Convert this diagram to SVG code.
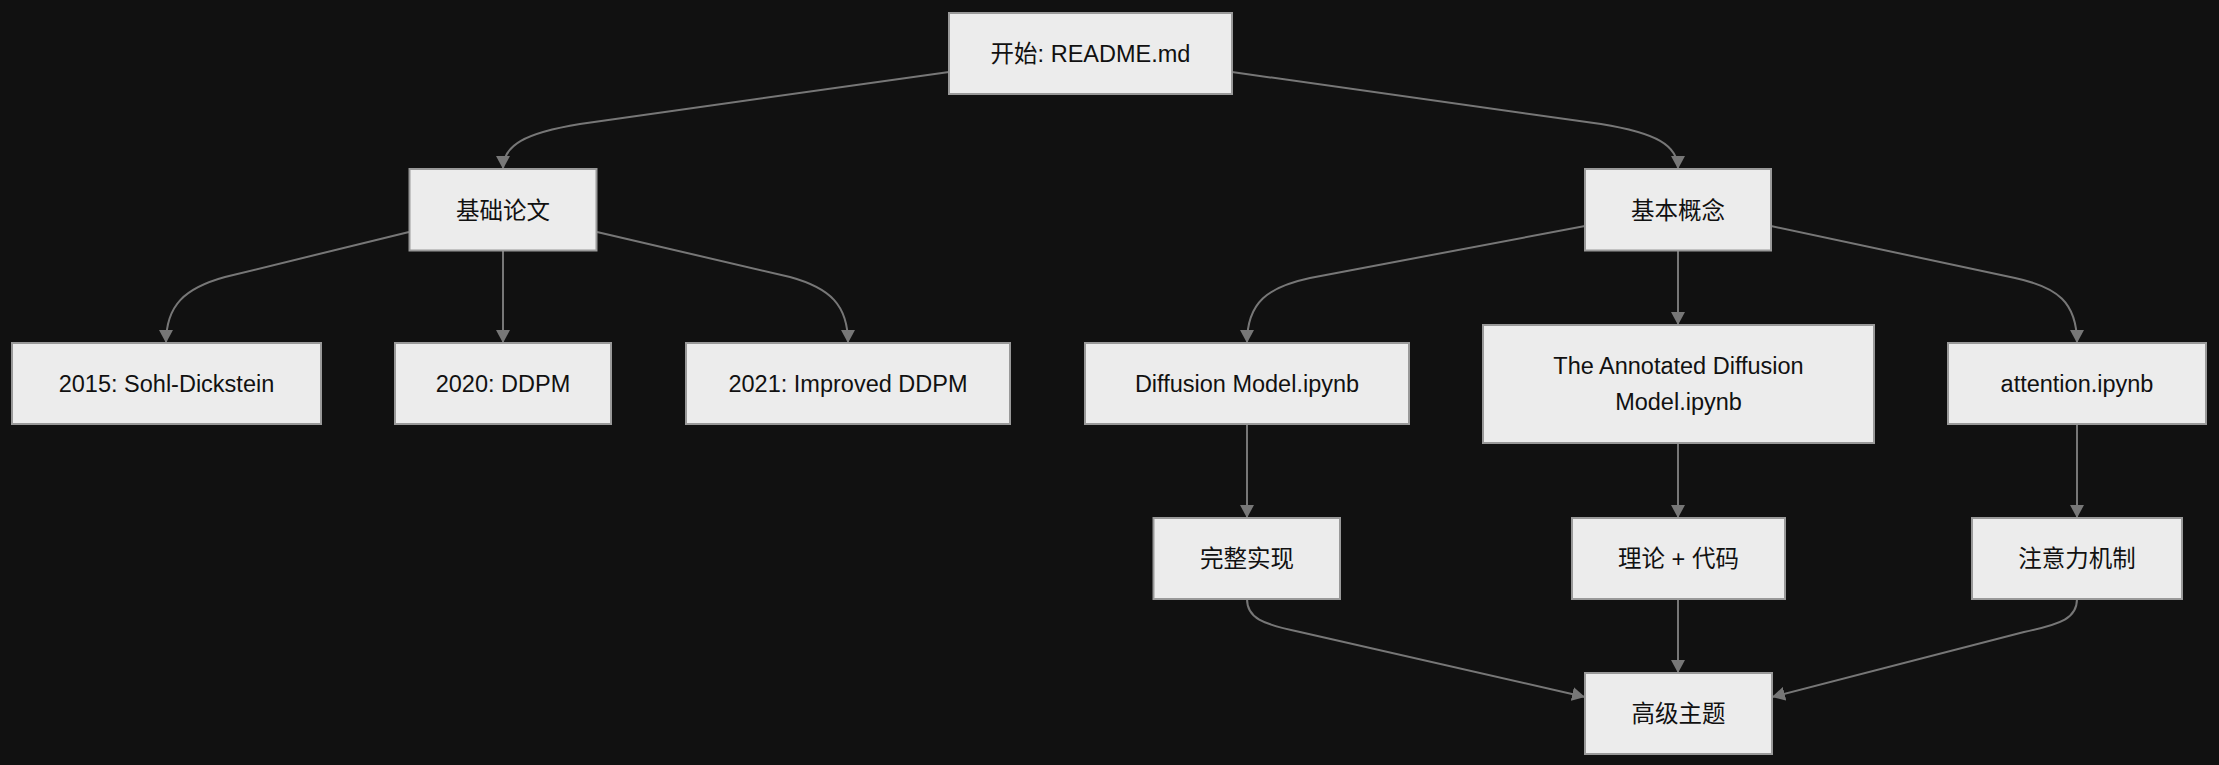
<svg xmlns="http://www.w3.org/2000/svg" width="2219" height="765" viewBox="0 0 2219 765">
<defs>
<style>
.node rect{fill:#ececec;stroke:#999;stroke-width:2}
.node text{font-family:"Liberation Sans","Noto Sans CJK SC",sans-serif;font-size:23.5px;fill:#111;text-anchor:middle}
.edge{fill:none;stroke:#777;stroke-width:2}
</style>
<marker id="arr" markerUnits="userSpaceOnUse" markerWidth="14" markerHeight="14" refX="13" refY="7" orient="auto">
<path d="M0,0 L13,7 L0,14 z" fill="#777"/>
</marker>
</defs>
<rect x="0" y="0" width="2219" height="765" fill="#111"/>
<g id="connectors">
<path class="edge" marker-end="url(#arr)" d="M949,72 L580,124 C525,133 503,145 503,169"/>
<path class="edge" marker-end="url(#arr)" d="M1232,72 L1601,124 C1656,133 1678,145 1678,169"/>
<path class="edge" marker-end="url(#arr)" d="M409,232 L225,277 C185,288 166,305 166,343"/>
<path class="edge" marker-end="url(#arr)" d="M503,251 L503,343"/>
<path class="edge" marker-end="url(#arr)" d="M597,232 L790,277 C830,288 848,305 848,343"/>
<path class="edge" marker-end="url(#arr)" d="M1585,226 L1310,278 C1268,287 1247,302 1247,343"/>
<path class="edge" marker-end="url(#arr)" d="M1678,251 L1678,325"/>
<path class="edge" marker-end="url(#arr)" d="M1771,226 L2015,278 C2057,287 2077,302 2077,343"/>
<path class="edge" marker-end="url(#arr)" d="M1247,424 L1247,518"/>
<path class="edge" marker-end="url(#arr)" d="M1678,443 L1678,518"/>
<path class="edge" marker-end="url(#arr)" d="M2077,424 L2077,518"/>
<path class="edge" marker-end="url(#arr)" d="M1678,599 L1678,673"/>
<path class="edge" marker-end="url(#arr)" d="M1247,599 C1247,618 1262,624 1300,632 L1585,697"/>
<path class="edge" marker-end="url(#arr)" d="M2077,599 C2077,618 2062,624 2024,632 L1772,697"/>
</g>
<g id="start" class="node"><rect x="949" y="13" width="283" height="81"/><text x="1090.5" y="62">开始: README.md</text></g>
<g id="papers" class="node"><rect x="409.5" y="169" width="187" height="81.5"/><text x="503" y="218.5">基础论文</text></g>
<g id="concepts" class="node"><rect x="1585" y="169" width="186" height="81.5"/><text x="1678" y="218.5">基本概念</text></g>
<g id="p2015" class="node"><rect x="12" y="343" width="309" height="81"/><text x="166.5" y="392">2015: Sohl-Dickstein</text></g>
<g id="p2020" class="node"><rect x="395" y="343" width="216" height="81"/><text x="503" y="392">2020: DDPM</text></g>
<g id="p2021" class="node"><rect x="686" y="343" width="324" height="81"/><text x="848" y="392">2021: Improved DDPM</text></g>
<g id="diffusion" class="node"><rect x="1085" y="343" width="324" height="81"/><text x="1247" y="392">Diffusion Model.ipynb</text></g>
<g id="annotated" class="node"><rect x="1483" y="325" width="391" height="118"/><text x="1678.5" y="374">The Annotated Diffusion</text><text x="1678.5" y="410">Model.ipynb</text></g>
<g id="attention" class="node"><rect x="1948" y="343" width="258" height="81"/><text x="2077" y="392">attention.ipynb</text></g>
<g id="impl" class="node"><rect x="1153.5" y="518" width="186.5" height="81"/><text x="1247" y="567">完整实现</text></g>
<g id="theory" class="node"><rect x="1572" y="518" width="213" height="81"/><text x="1678.5" y="567">理论 + 代码</text></g>
<g id="attn" class="node"><rect x="1972" y="518" width="210" height="81"/><text x="2077" y="567">注意力机制</text></g>
<g id="advanced" class="node"><rect x="1585" y="673" width="187" height="81"/><text x="1678.5" y="722">高级主题</text></g>
</svg>
